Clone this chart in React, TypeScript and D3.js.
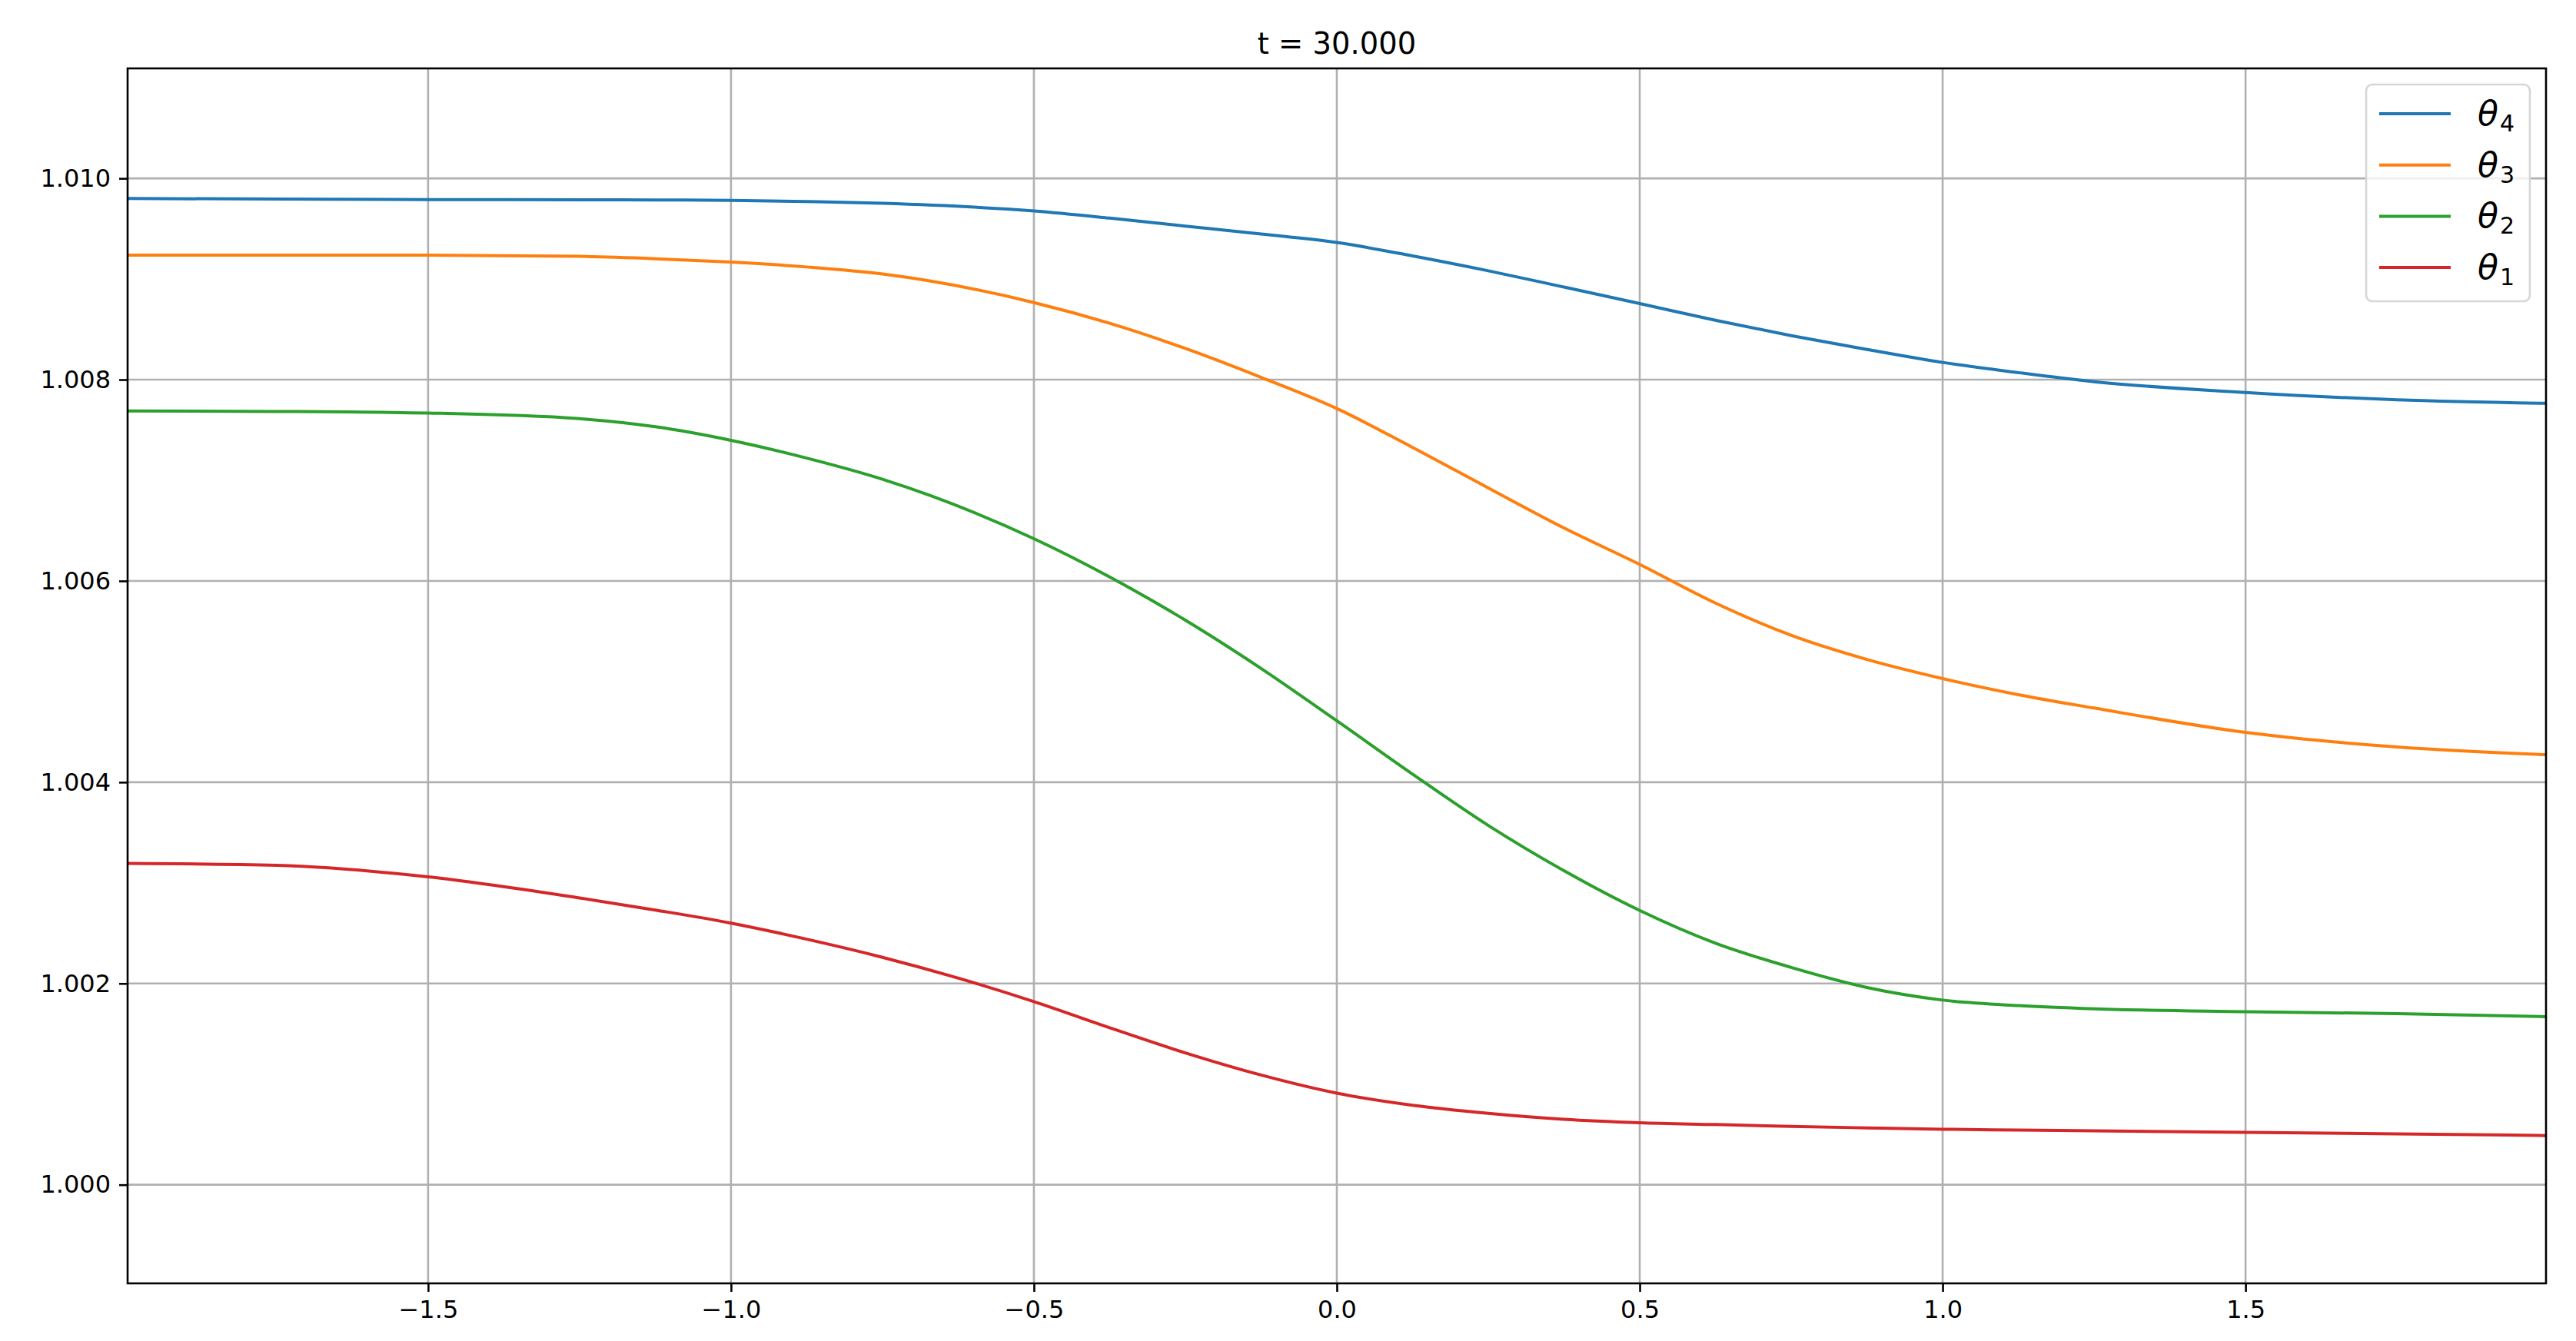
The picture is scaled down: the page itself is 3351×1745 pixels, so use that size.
import * as d3 from 'd3';
import React, { useEffect, useRef } from 'react';

const xs = [-1.996, -1.75, -1.5, -1.25, -1.125, -1.0, -0.875, -0.75, -0.5, -0.375, -0.25, -0.125, 0, 0.125, 0.25, 0.375, 0.5, 0.625, 0.75, 0.875, 1.0, 1.125, 1.25, 1.5, 1.75, 1.996];

const theta4 = [1.0098, 1.009795, 1.00979, 1.009788, 1.009786, 1.009782, 1.00977, 1.009752, 1.009676, 1.009605, 1.009526, 1.009447, 1.009363, 1.00923, 1.009082, 1.00892, 1.008756, 1.00859, 1.008438, 1.0083, 1.008171, 1.00807, 1.00798, 1.007873, 1.0078, 1.007765];
const theta3 = [1.009238, 1.009238, 1.009237, 1.009225, 1.009202, 1.009168, 1.00912, 1.00905, 1.008766, 1.00856, 1.00831, 1.008023, 1.007713, 1.007327, 1.006924, 1.006526, 1.006164, 1.00578, 1.00546, 1.00522, 1.00503, 1.00487, 1.004737, 1.004495, 1.00435, 1.004273];
const theta2 = [1.007689, 1.007684, 1.007668, 1.007612, 1.007532, 1.007397, 1.00722, 1.00701, 1.00642, 1.00604, 1.00561, 1.00513, 1.00461, 1.00408, 1.00357, 1.00312, 1.002725, 1.0024, 1.00216, 1.00196, 1.001835, 1.00178, 1.001748, 1.00172, 1.0017, 1.00167];
const theta1 = [1.003194, 1.003175, 1.00306, 1.00285, 1.00273, 1.0026, 1.00244, 1.00226, 1.00182, 1.00156, 1.00131, 1.00109, 1.00091, 1.00079, 1.00071, 1.00065, 1.000616, 1.000598, 1.00058, 1.000565, 1.000552, 1.000543, 1.000535, 1.00052, 1.000505, 1.000489];

const seriesNames = ['4', '3', '2', '1'];
const seriesValues = [theta4, theta3, theta2, theta1];
const colors = ['#1f77b4', '#ff7f0e', '#2ca02c', '#d62728'];

const xTicks = [-1.5, -1.0, -0.5, 0.0, 0.5, 1.0, 1.5];
const yTicks = [1.0, 1.002, 1.004, 1.006, 1.008, 1.01];
const title = 't = 30.000';

const width = 3351;
const height = 1745;
const margin = { top: 89, right: 39, bottom: 75, left: 166 };
const font = 'DejaVu Sans, sans-serif';

const App: React.FC = () => {
  const svgRef = useRef<SVGSVGElement>(null);
  useEffect(() => {
    if (!svgRef.current) return;
    const svg = d3.select(svgRef.current);
    svg.selectAll('*').remove();

    const x = d3
      .scaleLinear()
      .domain([-1.996, 1.996])
      .range([margin.left, width - margin.right]);
    const y = d3
      .scaleLinear()
      .domain([0.99902, 1.011093])
      .range([height - margin.bottom, margin.top]);

    svg.append('rect').attr('width', width).attr('height', height).attr('fill', '#fff');

    // grid
    const grid = svg.append('g').attr('stroke', '#b0b0b0').attr('stroke-width', 2.6);
    grid
      .selectAll('.vx')
      .data(xTicks)
      .enter()
      .append('line')
      .attr('x1', (d) => x(d))
      .attr('x2', (d) => x(d))
      .attr('y1', margin.top)
      .attr('y2', height - margin.bottom);
    grid
      .selectAll('.hy')
      .data(yTicks)
      .enter()
      .append('line')
      .attr('x1', margin.left)
      .attr('x2', width - margin.right)
      .attr('y1', (d) => y(d))
      .attr('y2', (d) => y(d));

    // lines
    const line = d3
      .line<number>()
      .x((_, i) => x(xs[i]))
      .y((d) => y(d))
      .curve(d3.curveMonotoneX);
    svg
      .append('clipPath')
      .attr('id', 'plot-clip')
      .append('rect')
      .attr('x', margin.left)
      .attr('y', margin.top)
      .attr('width', width - margin.left - margin.right)
      .attr('height', height - margin.top - margin.bottom);
    svg
      .append('g')
      .attr('clip-path', 'url(#plot-clip)')
      .selectAll('path')
      .data(seriesValues)
      .enter()
      .append('path')
      .attr('d', (d) => line(d))
      .attr('fill', 'none')
      .attr('stroke', (_, i) => colors[i])
      .attr('stroke-width', 4);

    // axes
    const fmtX = (d: d3.NumberValue) => {
      const v = +d;
      const s = Math.abs(v).toFixed(1);
      return v < 0 ? '\u2212' + s : s;
    };
    const xAxis = svg
      .append('g')
      .attr('transform', `translate(0,${height - margin.bottom})`)
      .call(d3.axisBottom(x).tickValues(xTicks).tickSize(11).tickPadding(10).tickFormat(fmtX));
    const yAxis = svg
      .append('g')
      .attr('transform', `translate(${margin.left},0)`)
      .call(
        d3
          .axisLeft(y)
          .tickValues(yTicks)
          .tickSize(11)
          .tickPadding(11)
          .tickFormat((d) => (+d).toFixed(3))
      );
    [xAxis, yAxis].forEach((g) => {
      g.select('.domain').remove();
      g.selectAll('line').attr('stroke', '#000').attr('stroke-width', 2.6);
      g.selectAll('text').attr('font-family', font).attr('font-size', 32).attr('fill', '#000');
    });
    xAxis.selectAll('text').attr('dy', '0.76em');

    // frame
    svg
      .append('rect')
      .attr('x', margin.left)
      .attr('y', margin.top)
      .attr('width', width - margin.left - margin.right)
      .attr('height', height - margin.top - margin.bottom)
      .attr('fill', 'none')
      .attr('stroke', '#000')
      .attr('stroke-width', 2.6);

    // title
    svg
      .append('text')
      .attr('x', (margin.left + width - margin.right) / 2)
      .attr('y', 70)
      .attr('text-anchor', 'middle')
      .attr('font-family', font)
      .attr('font-size', 38.5)
      .attr('fill', '#000')
      .text(title);

    // legend
    const legend = svg.append('g');
    legend
      .append('rect')
      .attr('x', 3078)
      .attr('y', 110)
      .attr('width', 213)
      .attr('height', 282)
      .attr('rx', 8)
      .attr('fill', 'rgba(255,255,255,0.8)')
      .attr('stroke', '#d6d6d6')
      .attr('stroke-width', 2.6);
    const rows = legend
      .selectAll('.row')
      .data(seriesNames)
      .enter()
      .append('g')
      .attr('transform', (_, i) => `translate(0,${148 + i * 66.7})`);
    rows
      .append('line')
      .attr('x1', 3095)
      .attr('x2', 3188)
      .attr('stroke', (_, i) => colors[i])
      .attr('stroke-width', 4);
    const txt = rows
      .append('text')
      .attr('x', 3223)
      .attr('y', 15)
      .attr('font-family', font)
      .attr('font-size', 44)
      .attr('fill', '#000');
    txt.append('tspan').attr('font-style', 'italic').text('\u03b8');
    txt
      .append('tspan')
      .attr('font-size', 30)
      .attr('dy', 8)
      .attr('dx', 2)
      .text((d) => d);
  }, []);

  return (
    <svg
      ref={svgRef}
      width={width}
      height={height}
      viewBox={`0 0 ${width} ${height}`}
      style={{ position: 'absolute', left: 0, top: 0, display: 'block' }}
    />
  );
};

export default App;
